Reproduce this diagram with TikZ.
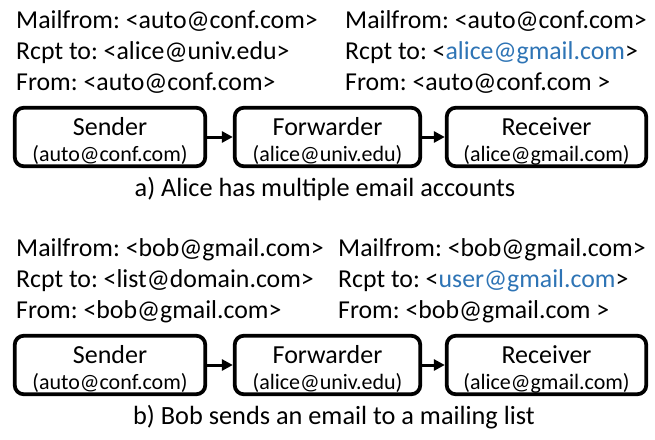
\documentclass[tikz,border=0pt]{standalone}
\usepackage{fontspec}
\setmainfont{Carlito}
\usetikzlibrary{arrows.meta}
\definecolor{linkblue}{HTML}{2E74B5}
\frenchspacing
\begin{document}
\begin{tikzpicture}[x=1pt,y=-1pt,
  hdr/.style={anchor=base west, inner sep=0pt, font=\fontsize{25.8}{31}\selectfont},
  boxframe/.style={draw, line width=3.8pt, rounded corners=9pt, minimum height=58.5pt, inner sep=0pt},
  ttl/.style={anchor=base, inner sep=0pt, font=\fontsize{26}{30}\selectfont},
  sub/.style={anchor=base, inner sep=0pt, font=\fontsize{22}{26}\selectfont},
  captxt/.style={anchor=base, inner sep=0pt, font=\fontsize{26.3}{30}\selectfont},
  conn/.style={line width=3pt, -{Triangle[length=11pt,width=11pt]}}
]
\useasboundingbox (0,0) rectangle (655,439);

% ---------- part a ----------
\node[hdr] (a1) at (16,28) {Mailfrom: <auto@conf.com>};
\node[hdr] (a2) at (16,59) {Rcpt to: <alice@univ.edu>};
\node[hdr] (a3) at (16,90) {From: <auto@conf.com>};
\node[hdr] (a4) at (345,28) {Mailfrom: <auto@conf.com>};
\node[hdr] (a5) at (345,59) {Rcpt to: <\textcolor{linkblue}{alice@gmail.com}>};
\node[hdr] (a6) at (345,90) {From: <auto@conf.com >};

\node[boxframe, minimum width=190.5pt] (sa) at (110,137) {};
\node[boxframe, minimum width=185.5pt] (fa) at (327.5,137) {};
\node[boxframe, minimum width=199.5pt] (ra) at (546.5,137) {};
\node[ttl] (sat) at (110,135) {Sender};
\node[sub] (sas) at (110,161) {(auto@conf.com)};
\node[ttl] (fat) at (327.5,135) {Forwarder};
\node[sub] (fas) at (327.5,161) {(alice@univ.edu)};
\node[ttl] (rat) at (546.5,135) {Receiver};
\node[sub] (ras) at (546.5,161) {(alice@gmail.com)};
\draw[conn] (sa.east) -- (fa.west);
\draw[conn] (fa.east) -- (ra.west);
\node[captxt] (capa) at (325,196) {a) Alice has multiple email accounts};

% ---------- part b ----------
\node[hdr] (b1) at (16,256) {Mailfrom: <bob@gmail.com>};
\node[hdr] (b2) at (16,287) {Rcpt to: <list@domain.com>};
\node[hdr] (b3) at (16,318) {From: <bob@gmail.com>};
\node[hdr] (b4) at (338,256) {Mailfrom: <bob@gmail.com>};
\node[hdr] (b5) at (338,287) {Rcpt to: <\textcolor{linkblue}{user@gmail.com}>};
\node[hdr] (b6) at (338,318) {From: <bob@gmail.com >};

\node[boxframe, minimum width=190.5pt] (sb) at (110,365) {};
\node[boxframe, minimum width=185.5pt] (fb) at (327.5,365) {};
\node[boxframe, minimum width=199.5pt] (rb) at (546.5,365) {};
\node[ttl] (sbt) at (110,363) {Sender};
\node[sub] (sbs) at (110,389) {(auto@conf.com)};
\node[ttl] (fbt) at (327.5,363) {Forwarder};
\node[sub] (fbs) at (327.5,389) {(alice@univ.edu)};
\node[ttl] (rbt) at (546.5,363) {Receiver};
\node[sub] (rbs) at (546.5,389) {(alice@gmail.com)};
\draw[conn] (sb.east) -- (fb.west);
\draw[conn] (fb.east) -- (rb.west);
\node[captxt] (capb) at (334,424) {b) Bob sends an email to a mailing list};
\end{tikzpicture}
\end{document}
